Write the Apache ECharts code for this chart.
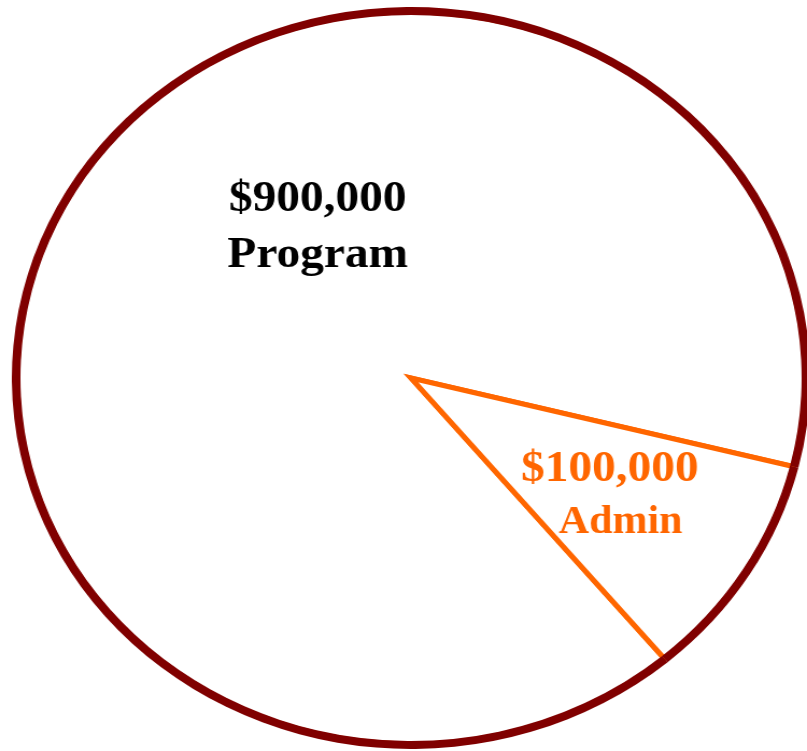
<!DOCTYPE html>
<html>
<head>
<meta charset="utf-8">
<script src="https://cdn.jsdelivr.net/npm/echarts@6/dist/echarts.min.js"></script>
<style>
  html, body { margin: 0; padding: 0; background: #ffffff; overflow: hidden; }
  #wrap { width: 807px; height: 751px; overflow: hidden; position: relative; }
  #chart { width: 750px; height: 751px; transform: scaleX(1.076); transform-origin: 0 0; }
</style>
</head>
<body>
<div id="wrap"><div id="chart"></div></div>
<script>
const categories = ['Program', 'Admin'];
const values = [900000, 100000];
const labelColors = ['#000000', '#ff6600'];

const FONT = '"Liberation Serif", "Times New Roman", serif';
const fmt = v => '$' + v.toLocaleString('en-US');

const pieData = categories.map((name, i) => ({
  name: name,
  value: values[i],
  label: {
    color: labelColors[i],
    rich: {
      v: { fontFamily: FONT, fontWeight: 'bold', fontSize: 44, lineHeight: i === 0 ? 56 : 53, color: labelColors[i] },
      n: { fontFamily: FONT, fontWeight: 'bold', fontSize: i === 0 ? 44 : 39, lineHeight: i === 0 ? 56 : 53,
           color: labelColors[i], padding: i === 0 ? [0, 0, 0, 0] : [0, 0, 0, 20] }
    }
  }
}));

const ringData = categories.map((name, i) => ({ name: name, value: values[i] }));

const labelShift = [ { dx: 71, dy: -52 }, { dx: 27, dy: 20 } ];

const chart = echarts.init(document.getElementById('chart'), null, { renderer: 'canvas' });
chart.setOption({
  animation: false,
  backgroundColor: '#ffffff',
  series: [
    {
      type: 'pie',
      center: [382, 378],
      radius: [0, 366],
      startAngle: 310,
      clockwise: true,
      silent: true,
      itemStyle: { color: '#ffffff', borderColor: '#ff6600', borderWidth: 5, borderJoin: 'miter' },
      label: {
        show: true,
        position: 'inside',
        formatter: p => '{v|' + fmt(p.value) + '}\n{n|' + p.name + '}'
      },
      labelLine: { show: false },
      labelLayout: p => labelShift[p.dataIndex],
      emphasis: { disabled: true },
      data: pieData,
      z: 1
    },
    {
      type: 'pie',
      center: [382, 378],
      radius: [363, 371],
      startAngle: 310,
      clockwise: true,
      silent: true,
      itemStyle: { color: '#800000', borderWidth: 0 },
      label: { show: false },
      labelLine: { show: false },
      emphasis: { disabled: true },
      data: ringData,
      z: 2
    }
  ]
});
</script>
</body>
</html>
